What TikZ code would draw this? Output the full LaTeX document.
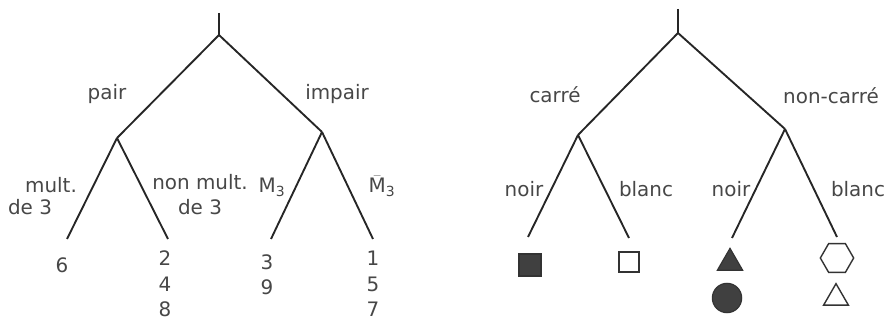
\documentclass[tikz,border=0pt]{standalone}
\usepackage{amsmath}
\usepackage{fontspec}
\setmainfont{DejaVu Sans}
\usepackage{tikz}
\usetikzlibrary{shapes.geometric}

\begin{document}
\begin{tikzpicture}[
  x=0.03cm, y=-0.03cm,
  every node/.style={font=\fontsize{17}{22}\selectfont, text=black!72},
  lbl/.style={anchor=base},
  branch/.style={draw=black!85, line width=1.6pt},
  darkfill/.style={fill=black!75, draw=black!80, inner sep=0pt, line width=1pt},
  openfill/.style={fill=white, draw=black!80, inner sep=0pt, line width=1.2pt}
]
\useasboundingbox (0,0) rectangle (891,320);

% left tree: numbers
\coordinate (Ltop) at (219,13);
\coordinate (Lroot) at (219,35);
\coordinate (Lpair) at (117,138);
\coordinate (Limp) at (322,132);
\coordinate (La) at (67,239);
\coordinate (Lb) at (168,239);
\coordinate (Lc) at (271,239);
\coordinate (Ld) at (373,239);

% right tree: shapes
\coordinate (Rtop) at (678,9);
\coordinate (Rroot) at (678,33);
\coordinate (Rcar) at (578,135);
\coordinate (Rnon) at (785,129);
\coordinate (Ra) at (528,237);
\coordinate (Rb) at (629,238);
\coordinate (Rc) at (732,238);
\coordinate (Rd) at (837,237);

\foreach \a/\b in {Ltop/Lroot, Lroot/Lpair, Lroot/Limp, Lpair/La, Lpair/Lb,
                   Limp/Lc, Limp/Ld, Rtop/Rroot, Rroot/Rcar, Rroot/Rnon,
                   Rcar/Ra, Rcar/Rb, Rnon/Rc, Rnon/Rd}
  \draw[branch] (\a) -- (\b);

% base of a multi-line node = baseline of its last line
\node[lbl] (pair) at (107,100) {pair};
\node[lbl] (impair) at (337,100) {impair};
\node[lbl] (multA) at (51,193) {mult.};
\node[lbl] (multB) at (30,215) {de 3};
\node[lbl, align=center] (nonmult) at (200,215) {non mult.\\de 3};
\node[lbl] (mtrois) at (272,193) {$\text{M}_{\text{3}}$};
\node[lbl] (mbar) at (382,193) {$\bar{\text{M}}_{\text{3}}$};

\node[lbl] (va) at (62,273) {6};
\node[lbl, align=center] (vb) at (165,317) {2\\4\\8};
\node[lbl, align=center] (vc) at (267,295) {3\\9};
\node[lbl, align=center] (vd) at (373,317) {1\\5\\7};

\node[lbl] (carre) at (555,103) {carré};
\node[lbl] (noncarre) at (831,104) {non-carré};
\node[lbl] (noirA) at (524,197) {noir};
\node[lbl] (blancA) at (646,197) {blanc};
\node[lbl] (noirB) at (731,197) {noir};
\node[lbl] (blancB) at (858,197) {blanc};

\node[darkfill, rectangle, minimum size=0.66cm] (sqnoir) at (530,265) {};
\node[openfill, rectangle, minimum size=0.6cm] (sqblanc) at (629,262) {};
\node[darkfill, regular polygon, regular polygon sides=3, minimum size=0.88cm] (trinoir) at (730,263) {};
\node[darkfill, circle, minimum size=0.88cm] (rondnoir) at (727,298) {};
\node[openfill, regular polygon, regular polygon sides=6, minimum size=1.0cm] (hexblanc) at (837,258) {};
\node[openfill, regular polygon, regular polygon sides=3, minimum size=0.86cm] (triblanc) at (836,298) {};
\end{tikzpicture}
\end{document}
